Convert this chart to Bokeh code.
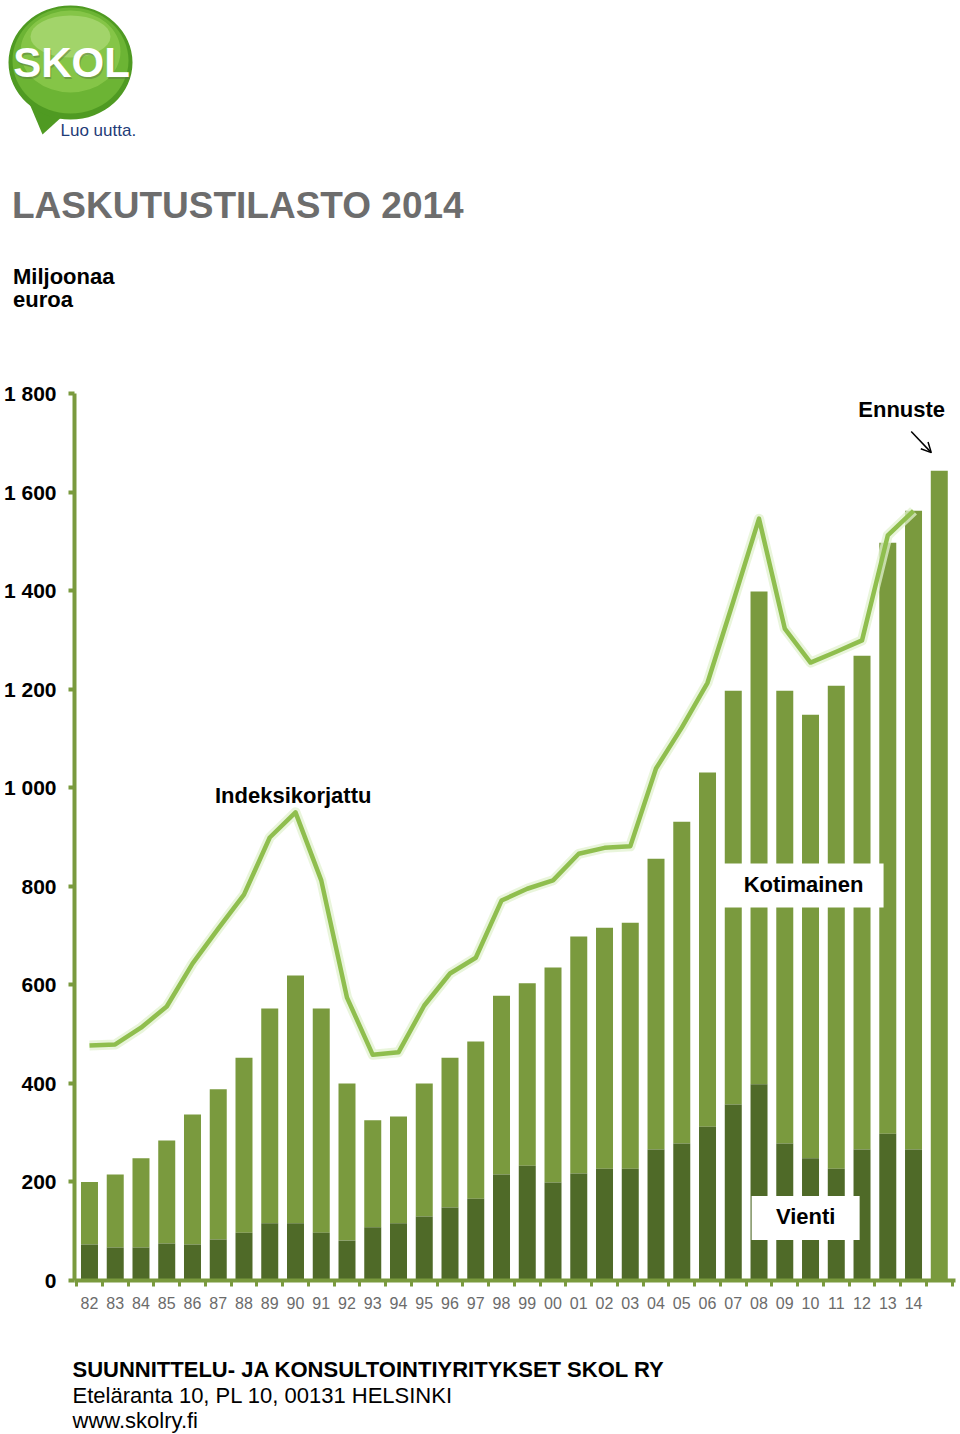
from bokeh.plotting import figure
from bokeh.models import Range1d, FixedTicker, Arrow, OpenHead, ColumnDataSource
from bokeh.layouts import column
from bokeh.core.properties import value
from bokeh.embed import file_html
from bokeh.resources import INLINE

# ---------------- data ----------------
years = ["82", "83", "84", "85", "86", "87", "88", "89", "90", "91", "92", "93",
         "94", "95", "96", "97", "98", "99", "00", "01", "02", "03", "04", "05",
         "06", "07", "08", "09", "10", "11", "12", "13", "14", ""]
vienti = [73, 67, 67, 75, 73, 83, 97, 116, 116, 97, 81, 108, 116, 130, 148, 166,
          215, 233, 199, 217, 227, 227, 266, 278, 312, 357, 398, 278, 248, 227,
          266, 298, 266, 0]
kotimainen = [127, 148, 181, 209, 264, 305, 355, 436, 503, 455, 319, 217, 217,
              270, 304, 319, 363, 370, 436, 481, 489, 499, 590, 653, 719, 840,
              1000, 919, 900, 980, 1002, 1199, 1296, 1643]
indeksikorjattu = [477, 479, 513, 556, 643, 714, 783, 899, 950, 812, 574, 458,
                   463, 558, 623, 655, 771, 795, 812, 866, 878, 881, 1039, 1122,
                   1213, 1378, 1546, 1323, 1254, 1276, 1299, 1512, 1562]
y_ticks = [0, 200, 400, 600, 800, 1000, 1200, 1400, 1600, 1800]
y_tick_labels = ["0", "200", "400", "600", "800", "1 000", "1 200", "1 400", "1 600", "1 800"]

FONT = value("Liberation Sans")
LIGHT = "#7a9a3e"
DARK = "#4f6a28"
AXIS = "#7a9a3e"

# ---------------- header ----------------
h = figure(width=960, height=330, x_range=Range1d(0, 960), y_range=Range1d(330, 0),
           toolbar_location=None, output_backend="svg", frame_align=False,
           x_axis_location=None, y_axis_location=None, min_border=0)
h.grid.visible = False
h.outline_line_color = None

# logo bubble
h.patch(x=[26, 64, 42], y=[96, 114, 134], fill_color="#4f9a22", line_color=None)
h.ellipse(x=[70], y=[62], width=124, height=114, fill_color="#4f9a22", line_color=None)
h.ellipse(x=[70], y=[60], width=116, height=106, fill_color="#6cb434", line_color=None)
h.ellipse(x=[70], y=[51], width=100, height=82, fill_color="#8cc94c", line_color=None, fill_alpha=0.8)
h.ellipse(x=[70], y=[36], width=80, height=42, fill_color="#b6de82", line_color=None, fill_alpha=0.6)
h.text(x=[72], y=[64], text=["SKOL"], text_font=FONT, text_font_style="bold",
       text_font_size="42px", text_color="#5a7a40", text_align="center", text_baseline="middle",
       text_alpha=0.5)
h.text(x=[71], y=[62], text=["SKOL"], text_font=FONT, text_font_style="bold",
       text_font_size="42px", text_color="white", text_align="center", text_baseline="middle")
h.text(x=[60], y=[130], text=["Luo uutta."], text_font=FONT, text_font_size="17px",
       text_color="#1f3c78", text_align="left", text_baseline="alphabetic")

h.text(x=[11.5], y=[205], text=["LASKUTUSTILASTO 2014"], text_font=FONT, text_font_style="bold",
       text_font_size="37px", text_color="#6d6d6d", text_align="left", text_baseline="alphabetic")
h.text(x=[12.5, 12.5], y=[276, 299], text=["Miljoonaa", "euroa"], text_font=FONT,
       text_font_style="bold", text_font_size="22px", text_color="black",
       text_align="left", text_baseline="alphabetic")

# ---------------- chart ----------------
n = len(years)
idx = list(range(n))
src = ColumnDataSource(dict(
    x=idx,
    vienti=vienti,
    top=[v + k for v, k in zip(vienti, kotimainen)],
))

p = figure(width=960, height=990, x_range=Range1d(-0.582, 33.63), y_range=Range1d(0, 1800),
           toolbar_location=None, output_backend="svg", frame_align=False,
           min_border_left=73, min_border_right=5, min_border_top=63, min_border_bottom=40)
p.grid.visible = False
p.outline_line_color = None

p.vbar(x="x", bottom="vienti", top="top", width=0.66, source=src,
       fill_color=LIGHT, line_color=None)
p.vbar(x="x", bottom=0, top="vienti", width=0.66, source=src,
       fill_color=DARK, line_color=None)

lx = idx[:len(indeksikorjattu)]
p.line(lx, indeksikorjattu, line_color="#e2f1cf", line_width=10, line_alpha=0.75,
       line_join="round")
p.line(lx, indeksikorjattu, line_color="#8fbe4e", line_width=4.5, line_join="round")

# labels
p.rect(x=[27.73], y=[801.5], width=160, height=44, width_units="screen", height_units="screen",
       fill_color="white", line_color=None)
p.rect(x=[27.81], y=[126.8], width=108, height=44, width_units="screen", height_units="screen",
       fill_color="white", line_color=None)
p.text(x=[7.91, 27.73, 27.81, 31.54], y=[984, 803, 130, 1768],
       text=["Indeksikorjattu", "Kotimainen", "Vienti", "Ennuste"],
       text_font=FONT, text_font_style="bold", text_font_size="22px", text_color="black",
       text_align="center", text_baseline="alphabetic")
p.add_layout(Arrow(x_start=31.91, y_start=1723, x_end=32.69, y_end=1680,
                   line_color="black", line_width=1.5,
                   end=OpenHead(size=10, line_color="black", line_width=1.5)))

# axes
p.yaxis.ticker = FixedTicker(ticks=y_ticks)
p.yaxis.major_label_overrides = {t: l for t, l in zip(y_ticks, y_tick_labels)}
p.yaxis.axis_line_color = AXIS
p.yaxis.axis_line_width = 4
p.yaxis.major_tick_line_color = AXIS
p.yaxis.major_tick_line_width = 4
p.yaxis.major_tick_out = 6
p.yaxis.major_tick_in = 0
p.yaxis.minor_tick_line_color = None
p.yaxis.major_label_standoff = 12
p.yaxis.major_label_text_font = "Liberation Sans"
p.yaxis.major_label_text_font_style = "bold"
p.yaxis.major_label_text_font_size = "21px"
p.yaxis.major_label_text_color = "black"

p.xaxis.ticker = FixedTicker(ticks=idx, minor_ticks=[i - 0.5 for i in range(n + 1)])
p.xaxis.major_label_overrides = {i: y for i, y in zip(idx, years)}
p.xaxis.axis_line_color = AXIS
p.xaxis.axis_line_width = 4
p.xaxis.major_tick_line_color = None
p.xaxis.major_tick_out = 0
p.xaxis.major_tick_in = 0
p.xaxis.minor_tick_line_color = AXIS
p.xaxis.minor_tick_line_width = 3
p.xaxis.minor_tick_out = 6
p.xaxis.minor_tick_in = 0
p.xaxis.major_label_standoff = 10
p.xaxis.major_label_text_font = "Liberation Sans"
p.xaxis.major_label_text_font_size = "16px"
p.xaxis.major_label_text_color = "#6b6b6b"

# ---------------- footer ----------------
f = figure(width=960, height=114, x_range=Range1d(0, 960), y_range=Range1d(114, 0),
           toolbar_location=None, output_backend="svg", frame_align=False,
           x_axis_location=None, y_axis_location=None, min_border=0)
f.grid.visible = False
f.outline_line_color = None
f.text(x=[72], y=[49], text=["SUUNNITTELU- JA KONSULTOINTIYRITYKSET SKOL RY"], text_font=FONT,
       text_font_style="bold", text_font_size="22px", text_color="black",
       text_align="left", text_baseline="alphabetic")
f.text(x=[72, 72], y=[75, 100], text=["Eteläranta 10, PL 10, 00131 HELSINKI", "www.skolry.fi"],
       text_font=FONT, text_font_size="22px", text_color="black",
       text_align="left", text_baseline="alphabetic")

layout = column(h, p, f, spacing=0)
open("out.html", "w").write(file_html(layout, INLINE))
